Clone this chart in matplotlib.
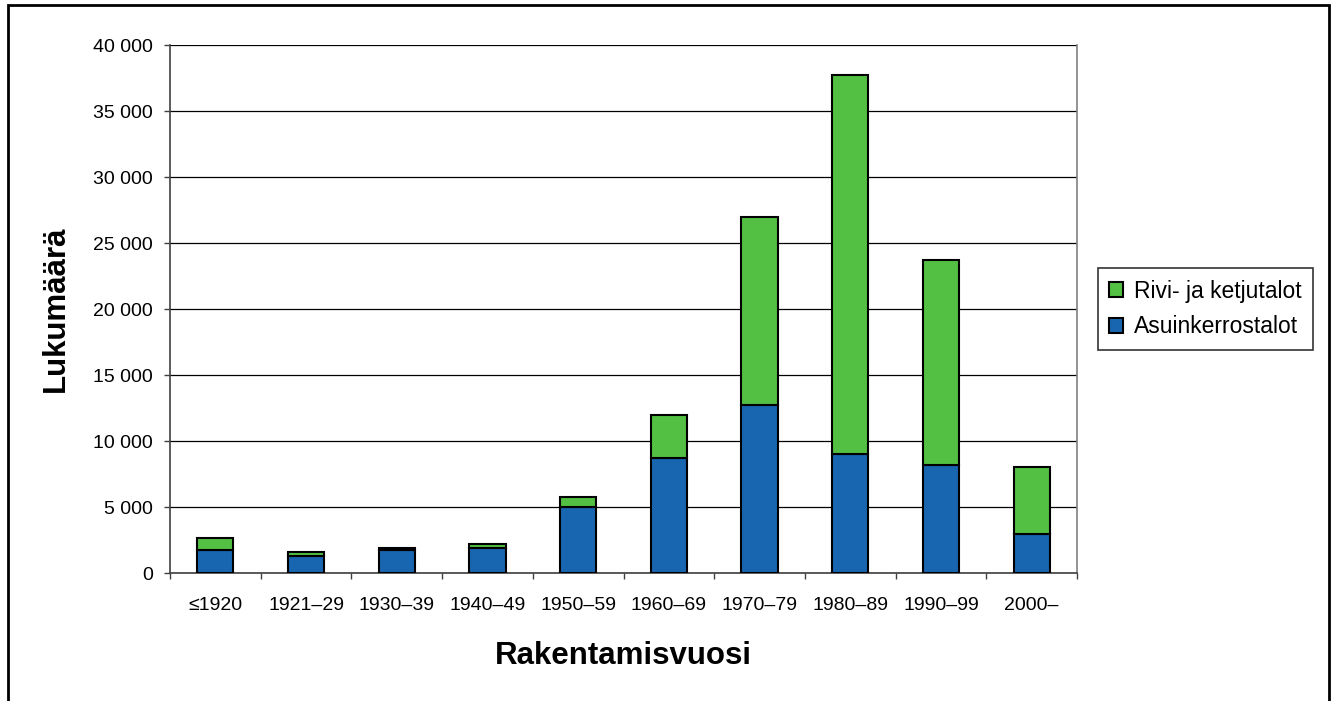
import matplotlib.pyplot as plt
import numpy as np
from matplotlib.patches import Rectangle
from matplotlib.ticker import FuncFormatter, FixedLocator

plt.rcParams['font.family'] = ['Liberation Sans', 'DejaVu Sans']

# %%
# Data
periods = ['≤1920', '1921–29', '1930–39', '1940–49', '1950–59',
           '1960–69', '1970–79', '1980–89', '1990–99', '2000–']
asuinkerrostalot = [1750, 1300, 1780, 1900, 5000, 8700, 12700, 9000, 8150, 2950]
rivitalot = [900, 300, 130, 300, 750, 3300, 14250, 28750, 15550, 5050]

blue = '#1866b0'
green = '#53c043'

# %%
fig = plt.figure(figsize=(13.35, 7.01), dpi=100)
W, H = 1335, 701
ax = fig.add_axes([170 / W, 1 - 573 / H, (1077 - 170) / W, (573 - 45) / H])

x = np.arange(len(periods))
ax.bar(x, asuinkerrostalot, width=0.4, color=blue, edgecolor='black',
       linewidth=1.5, label='Asuinkerrostalot', zorder=3)
ax.bar(x, rivitalot, width=0.4, bottom=asuinkerrostalot, color=green,
       edgecolor='black', linewidth=1.5, label='Rivi- ja ketjutalot', zorder=3)

ax.set_xlim(-0.5, len(periods) - 0.5)
ax.set_ylim(0, 40000)
ax.set_yticks(np.arange(0, 40001, 5000))
ax.yaxis.set_major_formatter(FuncFormatter(lambda v, p: f'{int(v):,}'.replace(',', ' ')))
ax.yaxis.grid(True, color='black', linewidth=0.9, zorder=0)

# category labels between boundary ticks
ax.set_xticks(x)
ax.set_xticklabels(periods)
ax.tick_params(axis='x', length=0, labelsize=14, pad=17)
ax.xaxis.set_minor_locator(FixedLocator(np.arange(-0.5, len(periods), 1)))
ax.tick_params(axis='x', which='minor', length=4.5, width=1, color='#404040')
ax.tick_params(axis='y', length=4, width=1, color='#404040', labelsize=14, pad=8.5)

ax.spines['top'].set_visible(False)
ax.spines['right'].set_color('#808080')
ax.spines['right'].set_linewidth(1.2)
for s in ['left', 'bottom']:
    ax.spines[s].set_color('#404040')
    ax.spines[s].set_linewidth(1.2)

ax.set_ylabel('Lukumäärä', fontsize=22.5, fontweight='bold', labelpad=16)
ax.set_xlabel('Rakentamisvuosi', fontsize=22.5, fontweight='bold', labelpad=20)

# legend: green entry on top
handles, labels = ax.get_legend_handles_labels()
leg = ax.legend(handles[::-1], labels[::-1], loc='center left',
                bbox_to_anchor=(1098 / W, 1 - 309 / H), bbox_transform=fig.transFigure,
                fontsize=16.5, frameon=True, fancybox=False, edgecolor='black',
                handlelength=0.6, handleheight=0.6, handletextpad=0.45,
                labelspacing=0.55, borderpad=0.5, borderaxespad=0)
leg.get_frame().set_linewidth(1.2)

# outer frame
fig.patches.append(Rectangle((8 / W, -0.01), (1329 - 8) / W, 1 - 5 / H + 0.01,
                             transform=fig.transFigure, fill=False,
                             edgecolor='black', linewidth=2))

fig.savefig('out.png', dpi=100)
